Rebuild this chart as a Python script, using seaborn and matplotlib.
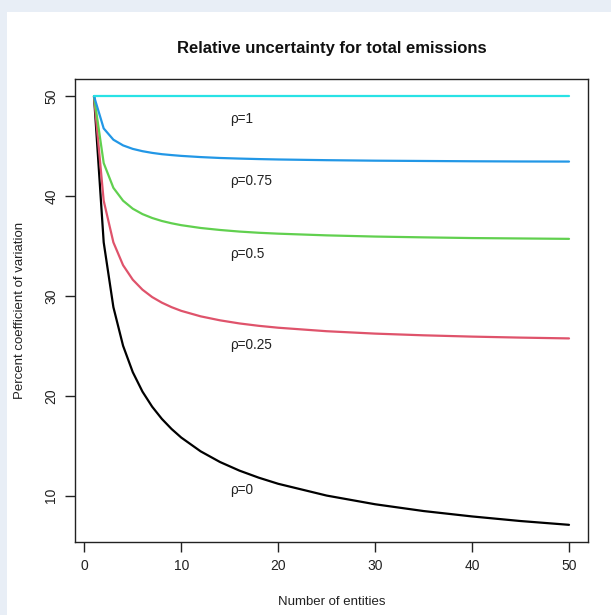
import matplotlib
matplotlib.use("Agg")
import matplotlib.pyplot as plt
import numpy as np
import pandas as pd
import seaborn as sns
from matplotlib.patches import Rectangle

sns.set_theme(style='white')
plt.rcParams['font.family'] = ['Liberation Sans', 'DejaVu Sans']

# number of entities
n_entities = [1, 2, 3, 4, 5, 6, 7, 8, 9, 10, 12, 14, 16, 18, 20, 25, 30, 35, 40, 45, 50]

cv_rho0 = [50.0, 35.36, 28.87, 25.0, 22.36, 20.41, 18.9, 17.68, 16.67, 15.81, 14.43,
           13.36, 12.5, 11.79, 11.18, 10.0, 9.13, 8.45, 7.91, 7.45, 7.07]
cv_rho025 = [50.0, 39.53, 35.36, 33.07, 31.62, 30.62, 29.88, 29.32, 28.87, 28.5, 27.95,
             27.55, 27.24, 27.0, 26.81, 26.46, 26.22, 26.05, 25.92, 25.82, 25.74]
cv_rho05 = [50.0, 43.3, 40.82, 39.53, 38.73, 38.19, 37.8, 37.5, 37.27, 37.08, 36.8,
            36.6, 36.44, 36.32, 36.23, 36.06, 35.94, 35.86, 35.79, 35.75, 35.71]
cv_rho075 = [50.0, 46.77, 45.64, 45.07, 44.72, 44.49, 44.32, 44.19, 44.1, 44.02, 43.9,
             43.81, 43.75, 43.7, 43.66, 43.59, 43.54, 43.51, 43.48, 43.46, 43.45]
cv_rho1 = [50.0] * len(n_entities)

rho_names = ['ρ=0', 'ρ=0.25', 'ρ=0.5', 'ρ=0.75', 'ρ=1']
rho_colors = ['#000000', '#DF536B', '#61D04F', '#2297E6', '#28E2E5']
label_x = [15, 15, 15, 15, 15]
label_y = [10.6, 25.1, 34.2, 41.5, 47.7]

series = [cv_rho0, cv_rho025, cv_rho05, cv_rho075, cv_rho1]
df = pd.concat([pd.DataFrame({'n': n_entities, 'cv': s, 'rho': name})
                for s, name in zip(series, rho_names)], ignore_index=True)

fig = plt.figure(figsize=(6.11, 6.15), dpi=100, facecolor='#E8EEF6')
fig.patches.append(Rectangle((7 / 611, 0), 1, (615 - 12) / 615, transform=fig.transFigure,
                             facecolor='white', edgecolor='none', zorder=-1))
ax = fig.add_axes([75 / 611, 1 - 542 / 615, (588 - 75) / 611, (542 - 79) / 615])
ax.set_facecolor('white')

sns.lineplot(data=df, x='n', y='cv', hue='rho', palette=dict(zip(rho_names, rho_colors)),
             estimator=None, sort=False, linewidth=1.6, legend=False, ax=ax)

for name, x, y in zip(rho_names, label_x, label_y):
    ax.text(x, y, name, ha='left', va='center', fontsize=9.8, color='#222222')

ax.set_xlim(-0.96, 51.96)
ax.set_ylim(5.35, 51.72)
ax.set_xticks([0, 10, 20, 30, 40, 50])
ax.set_yticks([10, 20, 30, 40, 50])
for sp in ax.spines.values():
    sp.set_visible(True)
    sp.set_color('#222222')
    sp.set_linewidth(1.0)
ax.tick_params(axis='both', direction='out', length=7, width=1, color='#222222',
               labelsize=10, labelcolor='#222222', pad=5, bottom=True, left=True)
for lab in ax.get_yticklabels():
    lab.set_rotation(90)
    lab.set_va('center')

ax.set_xlabel('Number of entities', fontsize=9.5, labelpad=17, color='#222222')
ax.set_ylabel('Percent coefficient of variation', fontsize=9.5, labelpad=13, color='#222222')
ax.set_title('Relative uncertainty for total emissions', fontsize=12, fontweight='bold',
             pad=19, color='#111111')

fig.savefig('out.png', dpi=100, facecolor=fig.get_facecolor())
